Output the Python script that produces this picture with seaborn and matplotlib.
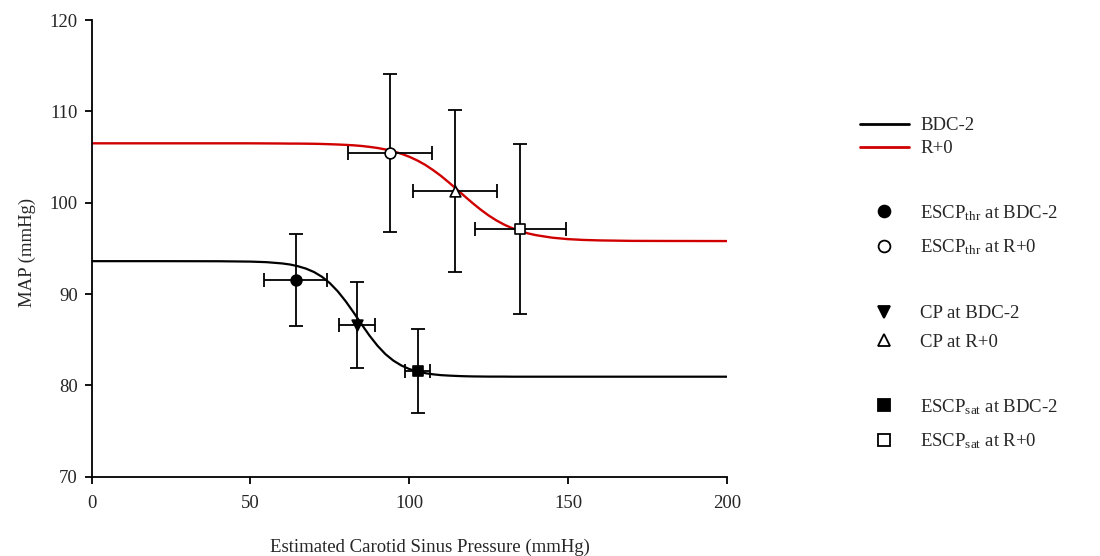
import matplotlib
matplotlib.use("Agg")
import matplotlib.pyplot as plt
from matplotlib.lines import Line2D
import seaborn as sns
import pandas as pd

# ---- data ----
curve_x = [0, 20, 40, 50, 55, 60, 62.5, 65, 67.5, 70, 72.5, 75, 77.5, 80, 82.5, 85,
           87.5, 90, 92.5, 95, 97.5, 100, 102.5, 105, 107.5, 110, 112.5, 115, 117.5,
           120, 122.5, 125, 127.5, 130, 132.5, 135, 137.5, 140, 145, 150, 155, 160,
           170, 180, 200]
bdc_curve = [93.60, 93.60, 93.59, 93.55, 93.49, 93.35, 93.23, 93.04, 92.78, 92.41,
             91.89, 91.19, 90.29, 89.20, 87.97, 86.68, 85.44, 84.34, 83.42, 82.71,
             82.18, 81.79, 81.52, 81.34, 81.21, 81.12, 81.07, 81.03, 81.00, 80.98,
             80.97, 80.96, 80.96, 80.96, 80.95, 80.95, 80.95, 80.95, 80.95, 80.95,
             80.95, 80.95, 80.95, 80.95, 80.95]
r0_curve = [106.50, 106.50, 106.50, 106.50, 106.49, 106.48, 106.47, 106.47, 106.46, 106.45,
            106.43, 106.40, 106.37, 106.33, 106.28, 106.21, 106.11, 105.99, 105.83, 105.62,
            105.36, 105.03, 104.63, 104.15, 103.57, 102.93, 102.21, 101.46, 100.69, 99.94,
            99.24, 98.60, 98.05, 97.58, 97.20, 96.88, 96.63, 96.44, 96.17, 96.01,
            95.92, 95.87, 95.82, 95.81, 95.80]

pt_labels = ["ESCPthr BDC-2", "CP BDC-2", "ESCPsat BDC-2",
             "ESCPthr R+0", "CP R+0", "ESCPsat R+0"]
pt_x = [64.2, 83.5, 102.6, 93.9, 114.4, 135.0]
pt_y = [91.5, 86.6, 81.6, 105.4, 101.3, 97.1]
pt_xerr = [10.0, 5.7, 4.0, 13.3, 13.3, 14.3]
pt_yerr = [5.05, 4.7, 4.6, 8.65, 8.9, 9.3]

x_ticks = [0, 50, 100, 150, 200]
y_ticks = [70, 80, 90, 100, 110, 120]

# ---- styling ----
sns.set_theme(style="white")
plt.rcParams["font.family"] = ["Liberation Serif", "DejaVu Serif"]
plt.rcParams["mathtext.fontset"] = "custom"
plt.rcParams["mathtext.rm"] = "Liberation Serif"
plt.rcParams["mathtext.it"] = "Liberation Serif:italic"

RED = "#D00000"
FS = 13.5

fig = plt.figure(figsize=(11, 5.56), dpi=100)
ax = fig.add_axes([0.0834, 0.1426, 0.5773, 0.8214])

curves = pd.DataFrame({"x": curve_x, "BDC-2": bdc_curve, "R+0": r0_curve})
sns.lineplot(data=curves, x="x", y="BDC-2", color="black", lw=1.6, ax=ax, zorder=2)
sns.lineplot(data=curves, x="x", y="R+0", color=RED, lw=1.7, ax=ax, zorder=2)

ax.errorbar(pt_x, pt_y, xerr=pt_xerr, yerr=pt_yerr, fmt="none", ecolor="black",
            elinewidth=1.3, capsize=4.8, capthick=1.3, zorder=3)

pts = pd.DataFrame({"label": pt_labels, "x": pt_x, "y": pt_y})
markers = {"ESCPthr BDC-2": "o", "CP BDC-2": "v", "ESCPsat BDC-2": "s",
           "ESCPthr R+0": "o", "CP R+0": "^", "ESCPsat R+0": "s"}
fills = {"ESCPthr BDC-2": "black", "CP BDC-2": "black", "ESCPsat BDC-2": "black",
         "ESCPthr R+0": "white", "CP R+0": "white", "ESCPsat R+0": "white"}
sizes = {"ESCPthr BDC-2": 60, "CP BDC-2": 60, "ESCPsat BDC-2": 55,
         "ESCPthr R+0": 60, "CP R+0": 60, "ESCPsat R+0": 55}
for lab in pt_labels:
    sub = pts[pts["label"] == lab]
    sns.scatterplot(data=sub, x="x", y="y", marker=markers[lab], color=fills[lab],
                    edgecolor="black", linewidth=1.2, s=sizes[lab], ax=ax, zorder=4,
                    legend=False)

ax.set_xlim(0, 200)
ax.set_ylim(70, 120)
ax.set_xticks(x_ticks)
ax.set_yticks(y_ticks)
ax.set_xticklabels([str(t) for t in x_ticks], fontsize=FS)
ax.set_yticklabels([str(t) for t in y_ticks], fontsize=FS)
ax.tick_params(axis="both", direction="out", length=5, width=1.3, color="black",
               bottom=True, left=True)
ax.tick_params(axis="x", pad=8)
ax.tick_params(axis="y", pad=5)
for side in ["top", "right"]:
    ax.spines[side].set_visible(False)
for side in ["left", "bottom"]:
    ax.spines[side].set_color("black")
    ax.spines[side].set_linewidth(1.3)

ax.set_xlabel("Estimated Carotid Sinus Pressure (mmHg)", fontsize=FS)
ax.set_ylabel("MAP (mmHg)", fontsize=FS)
ax.xaxis.set_label_coords(0.532, -0.135)
ax.yaxis.set_label_coords(-0.088, 0.49)

# ---- legends ----
def leg(handles, labels, top_px, spacing):
    lg = fig.legend(handles, labels, loc="upper left",
                    bbox_to_anchor=(860 / 1100, 1 - top_px / 556),
                    frameon=False, fontsize=FS, handlelength=2.6,
                    handletextpad=0.6, labelspacing=spacing, borderaxespad=0,
                    borderpad=0)
    return lg

h_lines = [Line2D([], [], color="black", lw=2.0), Line2D([], [], color=RED, lw=2.0)]
leg(h_lines, ["BDC-2", "R+0"], 117, 0.32)

def mk(m, fc):
    return Line2D([], [], ls="none", marker=m, markersize=8.5, markerfacecolor=fc,
                  markeredgecolor="black", markeredgewidth=1.3)

leg([mk("o", "black"), mk("o", "white")],
    [r"ESCP$_{\mathrm{thr}}$ at BDC-2", r"ESCP$_{\mathrm{thr}}$ at R+0"], 203, 0.77)
leg([mk("v", "black"), mk("^", "white")], ["CP at BDC-2", "CP at R+0"], 305, 0.61)
leg([mk("s", "black"), mk("s", "white")],
    [r"ESCP$_{\mathrm{sat}}$ at BDC-2", r"ESCP$_{\mathrm{sat}}$ at R+0"], 397, 0.77)

fig.savefig("out.png", dpi=100, facecolor="white")
